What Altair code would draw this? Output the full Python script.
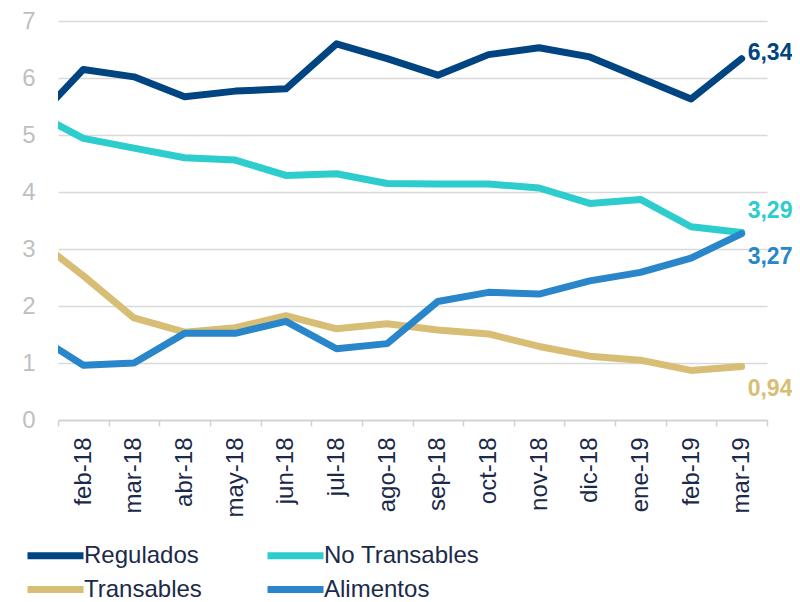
import altair as alt
import pandas as pd

# month index 0 = ene-18 (hidden, clipped at left edge), 1..14 = feb-18..mar-19
months = ["feb-18", "mar-18", "abr-18", "may-18", "jun-18", "jul-18", "ago-18",
          "sep-18", "oct-18", "nov-18", "dic-18", "ene-19", "feb-19", "mar-19"]
month_index = list(range(0, 15))

series_names = ["Regulados", "No Transables", "Transables", "Alimentos"]
colors = ["#004481", "#2DCCCD", "#D8BE75", "#2A86CA"]

regulados = [5.21, 6.15, 6.02, 5.67, 5.77, 5.81, 6.60, 6.34, 6.05, 6.41, 6.53, 6.37, 6.00, 5.63, 6.34]
no_transables = [5.41, 4.94, 4.77, 4.60, 4.56, 4.29, 4.32, 4.15, 4.14, 4.14, 4.07, 3.80, 3.87, 3.39, 3.29]
transables = [3.22, 2.53, 1.79, 1.54, 1.62, 1.83, 1.60, 1.69, 1.58, 1.51, 1.29, 1.12, 1.05, 0.87, 0.94]
alimentos = [1.53, 0.96, 1.00, 1.52, 1.52, 1.73, 1.25, 1.34, 2.08, 2.24, 2.21, 2.44, 2.59, 2.84, 3.27]

values = [regulados, no_transables, transables, alimentos]
label_dy = [-6, -21, 23, 23]

rows = []
for name, vals in zip(series_names, values):
    for i, v in zip(month_index, vals):
        rows.append({"serie": name, "mes": i, "valor": v,
                     "etiqueta": f"{v:.2f}".replace(".", ",")})
df = pd.DataFrame(rows)

W, H = 709, 399
band = W / len(months)
label_js = "[" + ",".join(f"'{m}'" for m in months) + "]"

x_scale = alt.Scale(domain=[0.5, len(months) + 0.5], nice=False, zero=False)
y_scale = alt.Scale(domain=[0, 7], nice=False)

color_scale = alt.Scale(domain=series_names, range=colors)

x_axis = alt.Axis(
    values=[i + 0.5 for i in range(len(months) + 1)],
    labelExpr=f"{label_js}[datum.value - 0.5] || ''",
    labelOffset=band / 2,
    labelAngle=-90,
    labelFont="Liberation Sans",
    labelFontSize=24,
    labelColor="#1B2A4A",
    labelPadding=11,
    tickSize=6,
    tickColor="#D0D0D0",
    tickWidth=1.5,
    domainColor="#D0D0D0",
    domainWidth=1.5,
    grid=False,
    title=None,
    labelOverlap=False,
    labelBound=False,
)

y_axis = alt.Axis(
    values=list(range(0, 8)),
    format="d",
    labelFont="Liberation Sans",
    labelFontSize=24,
    labelColor="#BFBFBF",
    labelPadding=23,
    tickSize=0,
    domain=False,
    grid=True,
    gridColor="#D9D9D9",
    gridWidth=1.5,
    title=None,
)

base = alt.Chart(df)

# wide horizontal stroke symbol inside a compact (32px) legend row
legend_symbol = "M-1.75,0L1.75,0"

lines = base.mark_line(strokeWidth=7, strokeCap="round", strokeJoin="round", clip=True).encode(
    x=alt.X("mes:Q", scale=x_scale, axis=x_axis),
    y=alt.Y("valor:Q", scale=y_scale, axis=y_axis),
    color=alt.Color(
        "serie:N",
        scale=color_scale,
        sort=series_names,
        legend=alt.Legend(
            title=None,
            orient="none",
            legendX=-22,
            legendY=515,
            columns=2,
            direction="horizontal",
            symbolType=legend_symbol,
            symbolSize=1024,
            symbolStrokeWidth=7,
            labelFont="Liberation Sans",
            labelFontSize=24,
            labelColor="#1B2A4A",
            labelOffset=9,
            columnPadding=51,
            rowPadding=0,
        ),
    ),
    detail="serie:N",
)

last = len(months)
labels = []
for name, col, dy in zip(series_names, colors, label_dy):
    labels.append(
        alt.Chart(df[(df["serie"] == name) & (df["mes"] == last)])
        .mark_text(align="left", baseline="middle", dx=6, dy=dy,
                   font="Liberation Sans", fontSize=23, fontWeight="bold", color=col)
        .encode(x=alt.X("mes:Q", scale=x_scale), y=alt.Y("valor:Q", scale=y_scale), text="etiqueta:N")
    )

chart = alt.layer(lines, *labels).properties(
    width=W,
    height=H,
    autosize=alt.AutoSizeParams(type="none"),
    padding={"left": 50, "top": 13, "right": 25, "bottom": 180},
).configure_view(stroke=None)

chart.save("out.html", embed_options={"renderer": "svg", "actions": False})
